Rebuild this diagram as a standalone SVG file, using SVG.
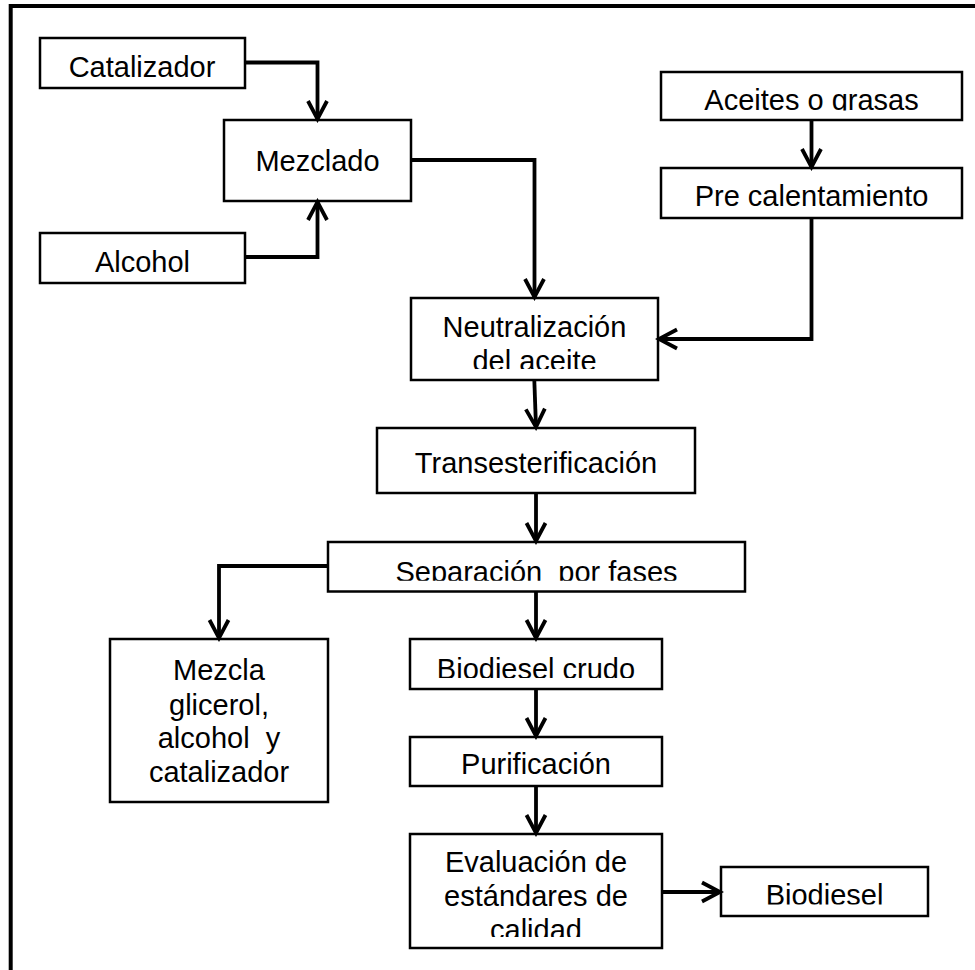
<svg xmlns="http://www.w3.org/2000/svg" width="975" height="970" viewBox="0 0 975 970">
<style>
.box{fill:#fff;stroke:#000;stroke-width:2.5}
.lbl{font-family:"Liberation Sans",Arial,sans-serif;font-size:29px;fill:#000;text-anchor:middle;white-space:pre}
.con{fill:none;stroke:#000;stroke-width:3.8;stroke-linejoin:miter}
.frame{fill:none;stroke:#000;stroke-width:4}
</style>
<defs>
<marker id="arr" viewBox="-24 -14 28 28" markerWidth="28" markerHeight="28" refX="0" refY="0" orient="auto" markerUnits="userSpaceOnUse">
<path d="M-18,-9.5 L0,0 L-18,9.5" fill="none" stroke="#000" stroke-width="3.8" stroke-linejoin="miter"/>
</marker>
<clipPath id="c-aceites"><rect x="661" y="72" width="301" height="38.5"/></clipPath>
<clipPath id="c-neut"><rect x="411" y="298" width="247" height="71"/></clipPath>
<clipPath id="c-sep"><rect x="328" y="542" width="417" height="38.8"/></clipPath>
<clipPath id="c-crudo"><rect x="410" y="639" width="252" height="39"/></clipPath>
<clipPath id="c-eval"><rect x="410" y="834" width="252" height="103"/></clipPath>
<clipPath id="c-bio"><rect x="721" y="867" width="207" height="37.5"/></clipPath>
</defs>
<rect width="975" height="970" fill="#fff"/>
<path class="frame" d="M10.7,970 V6 H975"/>

<g id="catalizador"><rect class="box" x="40" y="38" width="205" height="50"/><text class="lbl" x="142" y="77">Catalizador</text></g>
<g id="alcohol"><rect class="box" x="40" y="233" width="205" height="50"/><text class="lbl" x="142.5" y="272">Alcohol</text></g>
<g id="mezclado"><rect class="box" x="224" y="120" width="187" height="81"/><text class="lbl" x="317.5" y="171">Mezclado</text></g>
<g id="aceites"><rect class="box" x="661" y="72" width="301" height="48"/><text class="lbl" x="811.5" y="110" clip-path="url(#c-aceites)">Aceites o grasas</text></g>
<g id="precalentamiento"><rect class="box" x="661" y="168" width="301" height="50"/><text class="lbl" x="811.5" y="206">Pre calentamiento</text></g>
<g id="neutralizacion"><rect class="box" x="411" y="298" width="247" height="82"/><g clip-path="url(#c-neut)"><text class="lbl" x="534.5" y="337">Neutralización</text><text class="lbl" x="534.5" y="370.5">del aceite</text></g></g>
<g id="transesterificacion"><rect class="box" x="377" y="428" width="318" height="65"/><text class="lbl" x="536" y="473">Transesterificación</text></g>
<g id="separacion"><rect class="box" x="328" y="542" width="417" height="49.5"/><text class="lbl" x="536.5" y="581.5" clip-path="url(#c-sep)" xml:space="preserve">Separación  por fases</text></g>
<g id="mezcla"><rect class="box" x="110" y="639" width="218" height="163"/><text class="lbl" x="219" y="680">Mezcla</text><text class="lbl" x="219" y="715">glicerol,</text><text class="lbl" x="219" y="748" xml:space="preserve">alcohol  y</text><text class="lbl" x="219" y="782">catalizador</text></g>
<g id="biodiesel-crudo"><rect class="box" x="410" y="639" width="252" height="50"/><text class="lbl" x="536" y="678.5" clip-path="url(#c-crudo)">Biodiesel crudo</text></g>
<g id="purificacion"><rect class="box" x="410" y="737" width="252" height="49"/><text class="lbl" x="536" y="774">Purificación</text></g>
<g id="evaluacion"><rect class="box" x="410" y="834" width="252" height="114"/><g clip-path="url(#c-eval)"><text class="lbl" x="536" y="872">Evaluación de</text><text class="lbl" x="536" y="906">estándares de</text><text class="lbl" x="536" y="940">calidad</text></g></g>
<g id="biodiesel"><rect class="box" x="721" y="867" width="207" height="49"/><text class="lbl" x="824.5" y="905" clip-path="url(#c-bio)">Biodiesel</text></g>

<g id="connectors">
<path class="con" d="M245,62.5 H317.5 V119" marker-end="url(#arr)"/>
<path class="con" d="M245,257 H317.5 V202" marker-end="url(#arr)"/>
<path class="con" d="M411,160 H534.5 V297" marker-end="url(#arr)"/>
<path class="con" d="M811.5,120 V167" marker-end="url(#arr)"/>
<path class="con" d="M811.5,218 V339 H659" marker-end="url(#arr)"/>
<path class="con" d="M534.3,380 L536,427" marker-end="url(#arr)"/>
<path class="con" d="M536,493 V541" marker-end="url(#arr)"/>
<path class="con" d="M328,566 H219 V638" marker-end="url(#arr)"/>
<path class="con" d="M536,591.5 V638" marker-end="url(#arr)"/>
<path class="con" d="M536,689 V736" marker-end="url(#arr)"/>
<path class="con" d="M536,786 V833" marker-end="url(#arr)"/>
<path class="con" d="M662,892 H720" marker-end="url(#arr)"/>
</g>
</svg>
